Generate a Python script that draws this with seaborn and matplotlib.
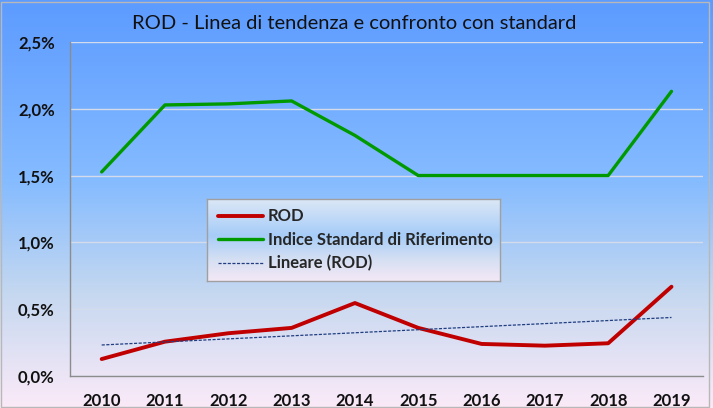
import numpy as np
import pandas as pd
import matplotlib
matplotlib.use('Agg')
import matplotlib.pyplot as plt
from matplotlib.colors import LinearSegmentedColormap
from matplotlib.ticker import FuncFormatter, FixedLocator
from matplotlib.lines import Line2D
import seaborn as sns

# Data (values in %)
years = [2010, 2011, 2012, 2013, 2014, 2015, 2016, 2017, 2018, 2019]
rod = [0.127, 0.257, 0.32, 0.36, 0.546, 0.36, 0.24, 0.227, 0.245, 0.668]
standard = [1.527, 2.028, 2.036, 2.058, 1.80, 1.50, 1.50, 1.50, 1.50, 2.13]
y_ticks = [0.0, 0.5, 1.0, 1.5, 2.0, 2.5]

title = 'ROD - Linea di tendenza e confronto con standard'
label_rod = 'ROD'
label_std = 'Indice Standard di Riferimento'
label_trend = 'Lineare (ROD)'

sns.set_theme(style='white')
plt.rcParams['font.family'] = ['Lato', 'DejaVu Sans']

pos = np.arange(len(years))
df = pd.DataFrame({'pos': pos, 'rod': rod, 'standard': standard})

# linear trend of ROD
coef = np.polyfit(pos, rod, 1)
df['trend'] = np.polyval(coef, pos)

fig = plt.figure(figsize=(7.13, 4.08), dpi=100)

# background gradient for the whole figure
bg = fig.add_axes([0, 0, 1, 1], zorder=0)
bg_cmap = LinearSegmentedColormap.from_list(
    'bg', [(0.0, '#5c9bff'), (0.45, '#86bcff'), (0.72, '#c5d8f0'), (1.0, '#fbeaf8')])
bg.imshow(np.linspace(0, 1, 256).reshape(-1, 1), aspect='auto', cmap=bg_cmap,
          extent=[0, 1, 0, 1], origin='upper')
bg.set_axis_off()
fig.patches.append(plt.Rectangle((0.002, 0.002), 0.993, 0.993, transform=fig.transFigure,
                                 fill=False, edgecolor='#b8b8b8', linewidth=1.0))

ax = fig.add_axes([0.0982, 0.0784, 0.888, 0.819], zorder=1)
ax.patch.set_alpha(0)

sns.lineplot(data=df, x='pos', y='rod', ax=ax, color='#c00000', linewidth=2.8)
sns.lineplot(data=df, x='pos', y='standard', ax=ax, color='#009a00', linewidth=2.4)
sns.lineplot(data=df, x='pos', y='trend', ax=ax, color='#1f3d80', linewidth=0.9,
             linestyle=(0, (2.5, 1.2)))

ax.set_xlim(-0.5, len(years) - 0.5)
ax.set_ylim(0, 2.5)
ax.set_yticks(y_ticks)
ax.yaxis.set_major_formatter(FuncFormatter(lambda v, p: f'{v:.1f}%'.replace('.', ',')))
ax.set_xticks(pos)
ax.set_xticklabels([str(y) for y in years])
ax.xaxis.set_minor_locator(FixedLocator(np.arange(-0.5, len(years), 1.0)))
ax.tick_params(axis='x', which='major', length=0, pad=12)
ax.tick_params(axis='x', which='minor', length=5, color='#8c8c8c', width=1, direction='out')
ax.tick_params(axis='y', length=5, color='#8c8c8c', width=1, direction='out', pad=6)
for lbl in ax.get_xticklabels() + ax.get_yticklabels():
    lbl.set_fontweight('bold')
    lbl.set_fontsize(12)
    lbl.set_color('#111111')

ax.grid(axis='y', color='#d4dcec', linewidth=1.0)
ax.set_axisbelow(True)
for side in ['top', 'right']:
    ax.spines[side].set_visible(False)
for side in ['left', 'bottom']:
    ax.spines[side].set_color('#8c8c8c')
    ax.spines[side].set_linewidth(1.0)
ax.set_xlabel('')
ax.set_ylabel('')

fig.text(0.497, 0.942, title, ha='center', va='center', fontsize=14.5, color='#111111')

# legend box with its own gradient
lg = ax.inset_axes([0.216, 0.284, 0.463, 0.246], zorder=5)
lg_cmap = LinearSegmentedColormap.from_list(
    'lg', [(0.0, '#dde8f6'), (0.45, '#a6ccf8'), (0.75, '#d6e0f3'), (1.0, '#f4e8f6')])
lg.imshow(np.linspace(0, 1, 128).reshape(-1, 1), aspect='auto', cmap=lg_cmap,
          extent=[0, 1, 0, 1], origin='upper')
lg.set_xticks([])
lg.set_yticks([])
for s in lg.spines.values():
    s.set_color('#a0a0a0')
    s.set_linewidth(1.0)
handles = [Line2D([], [], color='#c00000', linewidth=2.8),
           Line2D([], [], color='#009a00', linewidth=2.4),
           Line2D([], [], color='#1f3d80', linewidth=0.9, linestyle=(0, (2.5, 1.2)))]
leg = lg.legend(handles, [label_rod, label_std, label_trend], loc='center left',
                frameon=False, handlelength=2.7, handletextpad=0.3, labelspacing=0.45,
                borderaxespad=0.25, prop={'weight': 'bold', 'size': 12})

fig.savefig('out.png', dpi=100)
